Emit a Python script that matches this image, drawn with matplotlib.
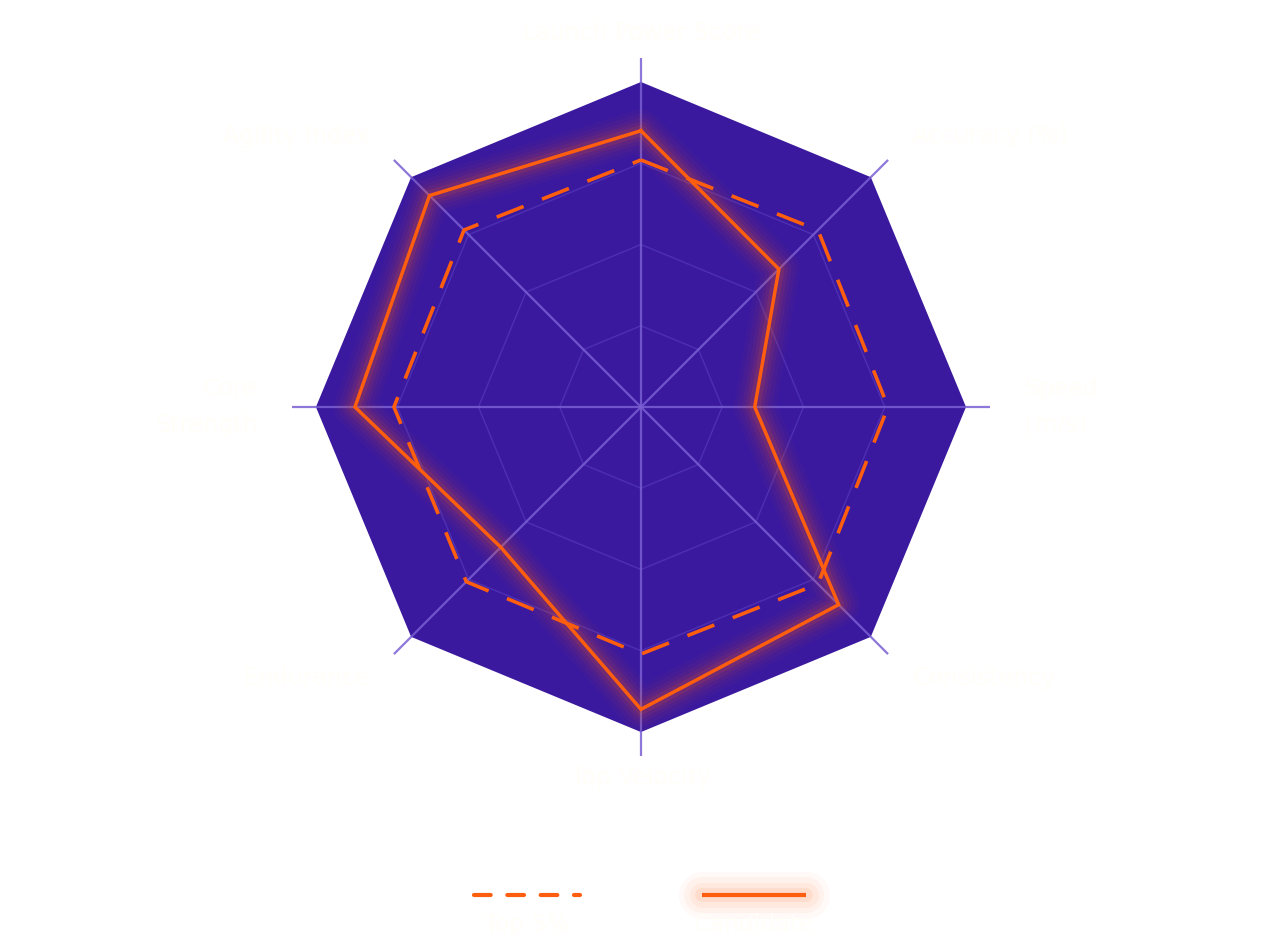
import numpy as np
import matplotlib
matplotlib.use('Agg')
import matplotlib.pyplot as plt

# data (0-100 scale, outer ring = 100)
metrics = ['Launch Power Score', 'Accuracy (%)', 'Speed\n(m/s)', 'Consistency',
           'Top Velocity', 'Endurance', 'Core\nStrength', 'Agility Index']
top5 = [76, 77, 76, 77, 76, 76, 76, 77]
candidate = [85, 60, 35, 86, 93, 61, 88, 92]
series_names = ['Top 5%', 'Candidate']
rings = [25, 50, 75, 100]

bg_fill = '#3a199f'
spoke_col = '#7a5fd4'
ring_col = '#5b3fc0'
orange = '#ff5e0e'
text_col = '#fffef9'

n = len(metrics)
ang = np.arange(n) * 2 * np.pi / n  # clockwise from top


def xy(vals):
    v = np.asarray(list(vals) + [vals[0]], dtype=float)
    a = np.append(ang, ang[0])
    return v * np.sin(a), v * np.cos(a)


fig = plt.figure(figsize=(12.8, 9.46), dpi=100)
fig.patch.set_facecolor('white')
ax = fig.add_axes([0, 0, 1, 1])
ax.set_xlim(-197.2, 196.6)
ax.set_ylim(-165.8, 125.2)
ax.set_aspect('equal', adjustable='box')
ax.axis('off')

# octagon background
ox, oy = xy([100] * n)
ax.fill(ox, oy, color=bg_fill, zorder=1, lw=0)

# rings
for r in rings[:-1]:
    rx, ry = xy([r] * n)
    ax.plot(rx, ry, color=ring_col, lw=1.0, alpha=0.6, zorder=2)

# spokes (extend a bit past the outer ring)
for a in ang:
    ax.plot([0, 107.5 * np.sin(a)], [0, 107.5 * np.cos(a)], color=spoke_col,
            lw=1.6, alpha=0.85, zorder=2, solid_capstyle='butt')

# top 5% dashed
tx, ty = xy(top5)
ax.plot(tx, ty, color=orange, lw=2.6, ls=(0, (8, 5.5)), zorder=4)

# candidate with soft glow
cx, cy = xy(candidate)
for w, al in [(30, 0.035), (24, 0.045), (18, 0.06), (13, 0.08), (8, 0.12)]:
    ax.plot(cx, cy, color=orange, lw=w, alpha=al, zorder=3,
            solid_joinstyle='round', solid_capstyle='round')
ax.plot(cx, cy, color=orange, lw=2.5, zorder=5, solid_joinstyle='miter')

# axis labels (near-white, as in the original)
for a, lab in zip(ang, metrics):
    r = 118
    lx, ly = r * np.sin(a), r * np.cos(a)
    ha = 'center'
    if np.sin(a) > 0.1:
        ha = 'left'
    elif np.sin(a) < -0.1:
        ha = 'right'
    if np.cos(a) > 0.99:
        ly = 115
    elif np.cos(a) < -0.99:
        ly = -114
    ax.text(lx, ly, lab, color=text_col, fontsize=17, ha=ha, va='center',
            linespacing=1.6, zorder=6)

# legend drawn manually
lax = fig.add_axes([0, 0, 1, 0.12])
lax.set_xlim(0, 1280)
lax.set_ylim(0, 113.5)
lax.axis('off')
hy = 946 - 895
lax.plot([474, 580], [hy, hy], color=orange, lw=3, ls=(0, (4, 4)),
         dash_capstyle='round')
for w, al in [(34, 0.03), (26, 0.04), (18, 0.06), (10, 0.09)]:
    lax.plot([702, 806], [hy, hy], color=orange, lw=w, alpha=al,
             solid_capstyle='round')
lax.plot([702, 806], [hy, hy], color=orange, lw=3, solid_capstyle='butt')
lax.text(527, hy - 30, series_names[0], color=text_col, fontsize=17,
         ha='center', va='center')
lax.text(754, hy - 30, series_names[1], color=text_col, fontsize=17,
         ha='center', va='center')

fig.savefig('out.png', dpi=100, facecolor='white')
